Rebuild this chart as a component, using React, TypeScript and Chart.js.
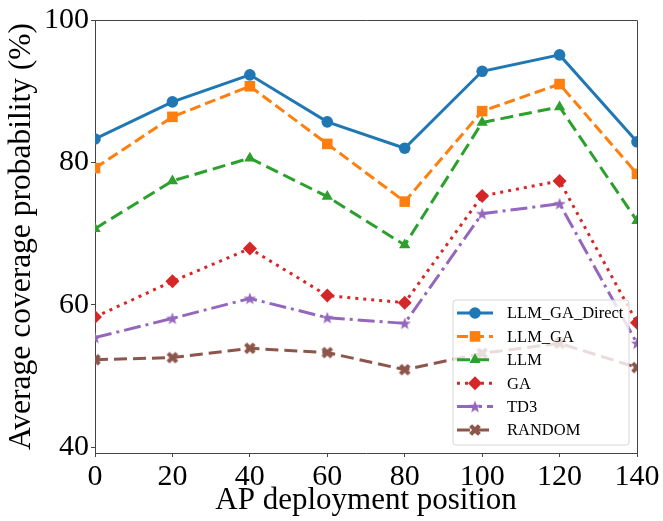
import React, { useEffect, useRef } from "react";
import { Chart, registerables } from "chart.js";
import { drawPoint } from "chart.js/helpers";

Chart.register(...registerables);

const positions = [0, 20, 40, 60, 80, 100, 120, 140];
const llmGaDirect = [83.3, 88.5, 92.3, 85.7, 82.0, 92.8, 95.1, 82.9];
const llmGa = [79.2, 86.4, 90.7, 82.6, 74.5, 87.2, 91.0, 78.4];
const llm = [70.7, 77.4, 80.6, 75.2, 68.4, 85.6, 87.8, 71.8];
const ga = [58.3, 63.3, 67.9, 61.3, 60.3, 75.3, 77.4, 57.5];
const td3 = [55.4, 58.1, 60.9, 58.2, 57.4, 72.8, 74.2, 54.6];
const randomVals = [52.3, 52.6, 53.9, 53.3, 50.9, 53.2, 54.6, 51.2];

const seriesNames = ["LLM_GA_Direct", "LLM_GA", "LLM", "GA", "TD3", "RANDOM"];
const seriesValues = [llmGaDirect, llmGa, llm, ga, td3, randomVals];
const seriesColors = ["#1f77b4", "#ff7f0e", "#2ca02c", "#d62728", "#9467bd", "#8c564b"];

const xTicks = [0, 20, 40, 60, 80, 100, 120, 140];
const yTicks = [40, 60, 80, 100];

const xTitle = "AP deployment position";
const yTitle = "Average coverage probability (%)";

const FONT = "'Liberation Serif', 'Times New Roman', serif";

function makeStar(color: string): HTMLCanvasElement {
  const c = document.createElement("canvas");
  c.width = 16;
  c.height = 16;
  const ctx = c.getContext("2d")!;
  ctx.fillStyle = color;
  ctx.beginPath();
  const R = 6.5, r = 2.7;
  for (let i = 0; i < 10; i++) {
    const ang = -Math.PI / 2 + (i * Math.PI) / 5;
    const rad = i % 2 === 0 ? R : r;
    const x = 8 + rad * Math.cos(ang);
    const y = 8.5 + rad * Math.sin(ang);
    if (i === 0) ctx.moveTo(x, y);
    else ctx.lineTo(x, y);
  }
  ctx.closePath();
  ctx.fill();
  return c;
}

function makeX(color: string): HTMLCanvasElement {
  const c = document.createElement("canvas");
  c.width = 16;
  c.height = 16;
  const ctx = c.getContext("2d")!;
  ctx.fillStyle = color;
  ctx.translate(8, 8);
  ctx.rotate(Math.PI / 4);
  const a = 2.1, b = 6.2;
  ctx.beginPath();
  ctx.moveTo(-a, -b);
  ctx.lineTo(a, -b);
  ctx.lineTo(a, -a);
  ctx.lineTo(b, -a);
  ctx.lineTo(b, a);
  ctx.lineTo(a, a);
  ctx.lineTo(a, b);
  ctx.lineTo(-a, b);
  ctx.lineTo(-a, a);
  ctx.lineTo(-b, a);
  ctx.lineTo(-b, -a);
  ctx.lineTo(-a, -a);
  ctx.closePath();
  ctx.fill();
  return c;
}

export default function App() {
  const canvasRef = useRef<HTMLCanvasElement | null>(null);

  useEffect(() => {
    const canvas = canvasRef.current;
    if (!canvas) return;

    const pointStyles: any[] = [
      "circle",
      "rect",
      "triangle",
      "rectRot",
      makeStar(seriesColors[4]),
      makeX(seriesColors[5]),
    ];
    const radii = [5.8, 7.5, 6.5, 7, 6, 6];
    const dashes = [[], [11, 5], [13, 6], [3, 5], [17, 5, 3, 5], [13, 6]];

    const datasets = seriesNames.map((name, i) => ({
      label: name,
      data: positions.map((x, j) => ({ x, y: seriesValues[i][j] })),
      borderColor: seriesColors[i],
      backgroundColor: seriesColors[i],
      pointBackgroundColor: seriesColors[i],
      pointBorderColor: seriesColors[i],
      pointBorderWidth: 0,
      borderWidth: 3,
      borderDash: dashes[i],
      pointStyle: pointStyles[i],
      pointRadius: radii[i],
      tension: 0,
      fill: false,
      clip: 0,
      order: 6 - i,
    }));

    const framePlugin = {
      id: "frameAndLegend",
      afterDatasetsDraw(chart: any) {
        const { ctx, chartArea } = chart;
        const { left, right, top, bottom } = chartArea;
        ctx.save();
        ctx.strokeStyle = "#444";
        ctx.lineWidth = 1;
        ctx.beginPath();
        ctx.moveTo(left, top + 0.5);
        ctx.lineTo(right + 0.5, top + 0.5);
        ctx.lineTo(right + 0.5, bottom);
        ctx.stroke();
        ctx.restore();

        // legend
        const boxW = 176;
        const boxH = 145;
        const bx = right - 8 - boxW;
        const by = bottom - 8 - boxH;
        ctx.save();
        ctx.fillStyle = "rgba(255,255,255,0.8)";
        ctx.strokeStyle = "rgba(204,204,204,0.8)";
        ctx.lineWidth = 1;
        const rr = 3;
        ctx.beginPath();
        ctx.moveTo(bx + rr, by);
        ctx.lineTo(bx + boxW - rr, by);
        ctx.arcTo(bx + boxW, by, bx + boxW, by + rr, rr);
        ctx.lineTo(bx + boxW, by + boxH - rr);
        ctx.arcTo(bx + boxW, by + boxH, bx + boxW - rr, by + boxH, rr);
        ctx.lineTo(bx + rr, by + boxH);
        ctx.arcTo(bx, by + boxH, bx, by + boxH - rr, rr);
        ctx.lineTo(bx, by + rr);
        ctx.arcTo(bx, by, bx + rr, by, rr);
        ctx.closePath();
        ctx.fill();
        ctx.stroke();

        for (let i = 0; i < seriesNames.length; i++) {
          const cy = by + 13 + i * 23.4;
          ctx.strokeStyle = seriesColors[i];
          ctx.fillStyle = seriesColors[i];
          ctx.lineWidth = 3;
          ctx.setLineDash(dashes[i]);
          ctx.beginPath();
          ctx.moveTo(bx + 4, cy);
          ctx.lineTo(bx + 40, cy);
          ctx.stroke();
          ctx.setLineDash([]);
          drawPoint(ctx, { pointStyle: pointStyles[i], radius: radii[i], borderWidth: 0, rotation: 0 }, bx + 22, cy);
          ctx.fillStyle = "#000";
          ctx.font = `16.5px ${FONT}`;
          ctx.textAlign = "left";
          ctx.textBaseline = "middle";
          ctx.fillText(seriesNames[i], bx + 54, cy + 1);
        }
        ctx.restore();
      },
    };

    const chart = new Chart(canvas, {
      type: "line",
      data: { datasets },
      plugins: [framePlugin],
      options: {
        responsive: false,
        animation: false,
        maintainAspectRatio: false,
        layout: { padding: { top: 19, right: 26, left: 0, bottom: 0 } },
        plugins: {
          legend: { display: false },
          tooltip: { enabled: false },
        },
        scales: {
          x: {
            type: "linear",
            min: 0,
            max: 140,
            afterBuildTicks: (s: any) => {
              s.ticks = xTicks.map((v) => ({ value: v }));
            },
            afterFit: (s: any) => {
              s.height = 68;
            },
            grid: {
              display: true,
              drawOnChartArea: false,
              drawTicks: true,
              tickLength: 4,
              color: "#444",
            },
            border: { display: true, color: "#444", width: 1 },
            ticks: {
              color: "#000",
              font: { family: FONT, size: 30 },
              padding: 2,
              maxRotation: 0,
              autoSkip: false,
            },
            title: {
              display: true,
              text: xTitle,
              color: "#000",
              font: { family: FONT, size: 31 },
              padding: { top: 0, bottom: 2 },
            },
          },
          y: {
            type: "linear",
            min: 39.2,
            max: 100,
            afterBuildTicks: (s: any) => {
              s.ticks = yTicks.map((v) => ({ value: v }));
            },
            afterFit: (s: any) => {
              s.width = 95;
            },
            grid: {
              display: true,
              drawOnChartArea: false,
              drawTicks: true,
              tickLength: 4,
              color: "#444",
            },
            border: { display: true, color: "#444", width: 1 },
            ticks: {
              color: "#000",
              font: { family: FONT, size: 30 },
              padding: 2,
              autoSkip: false,
            },
            title: {
              display: true,
              text: yTitle,
              color: "#000",
              font: { family: FONT, size: 31.5 },
              padding: { top: 3, bottom: 0 },
            },
          },
        },
      },
    } as any);

    return () => {
      chart.destroy();
    };
  }, []);

  return (
    <div style={{ position: "fixed", left: 0, top: 0, width: 663, height: 521, background: "#fff" }}>
      <canvas ref={canvasRef} width={663} height={521} style={{ display: "block" }} />
    </div>
  );
}
